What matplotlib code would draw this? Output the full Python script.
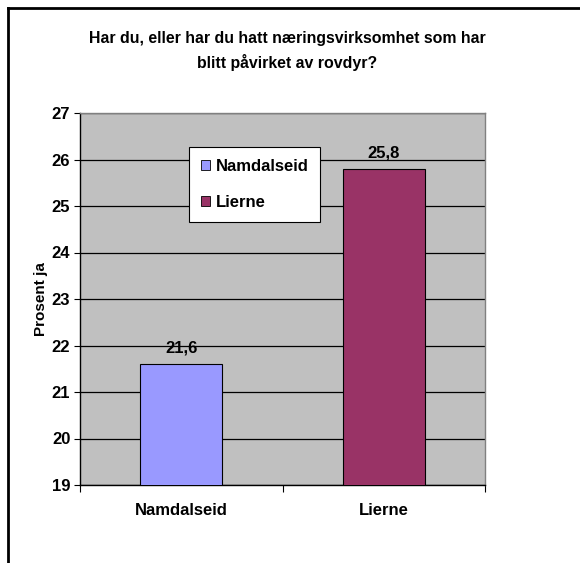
import matplotlib
matplotlib.use("Agg")
import matplotlib.pyplot as plt
from matplotlib.patches import Patch
from matplotlib.lines import Line2D

categories = ["Namdalseid", "Lierne"]
values = [21.6, 25.8]
value_labels = ["21,6", "25,8"]
colors = ["#9999FF", "#993366"]
yticks = [19, 20, 21, 22, 23, 24, 25, 26, 27]
title = "Har du, eller har du hatt næringsvirksomhet som har\nblitt påvirket av rovdyr?"
ylabel = "Prosent ja"

plt.rcParams['font.family'] = ['Liberation Sans', 'DejaVu Sans']
plt.rcParams['font.weight'] = 'bold'

W, H = 580, 563
fig = plt.figure(figsize=(W / 100, H / 100), dpi=100)
fig.patch.set_facecolor('white')

# outer frame (top and left visible)
fig.add_artist(Line2D([8 / W, 1], [1 - 8 / H, 1 - 8 / H], transform=fig.transFigure, color='black', lw=2))
fig.add_artist(Line2D([8 / W, 8 / W], [0, 1 - 8 / H], transform=fig.transFigure, color='black', lw=2))

L, R, T, B = 80, 485, 113, 485
ax = fig.add_axes([L / W, 1 - B / H, (R - L) / W, (B - T) / H])
ax.set_facecolor('#C0C0C0')

x = list(range(len(categories)))
ax.bar(x, values, width=0.405, bottom=0, color=colors, edgecolor='black', linewidth=0.8, zorder=3)
ax.set_xlim(-0.5, len(categories) - 0.5)
ax.set_ylim(19, 27)
ax.set_yticks(yticks)
ax.set_yticklabels([str(t) for t in yticks], fontsize=12, fontweight='bold')
ax.yaxis.grid(True, color='black', linewidth=0.9, zorder=1)
ax.set_axisbelow(True)

ax.set_xticks(x)
ax.set_xticklabels(categories, fontsize=12, fontweight='bold')
ax.tick_params(axis='x', length=0, pad=13)
ax.set_xticks([-0.5, 0.5, 1.5], minor=True)
ax.tick_params(axis='x', which='minor', length=5, width=0.8, color='black')
ax.tick_params(axis='y', length=4, width=0.8, color='black', pad=3)

for s in ['top', 'right']:
    ax.spines[s].set_color('#808080')
    ax.spines[s].set_linewidth(1)
for s in ['left', 'bottom']:
    ax.spines[s].set_color('black')
    ax.spines[s].set_linewidth(1)

for xi, v, lab in zip(x, values, value_labels):
    ax.annotate(lab, (xi, v), xytext=(0, 6), textcoords='offset points',
                ha='center', va='bottom', fontsize=12, fontweight='bold')

ax.set_ylabel(ylabel, fontsize=11, fontweight='bold', labelpad=3)

fig.text(287 / W, 1 - 51 / H, title, ha='center', va='center', fontsize=11.4,
         fontweight='bold', linespacing=1.6)

handles = [Patch(facecolor=c, edgecolor='black', linewidth=0.6) for c in colors]
leg = ax.legend(handles, categories, loc='upper left',
                bbox_to_anchor=(189 / W, 1 - 147 / H), bbox_transform=fig.transFigure,
                fancybox=False, framealpha=1, edgecolor='black', fontsize=12,
                handlelength=0.55, handleheight=0.55, handletextpad=0.35,
                labelspacing=1.3, borderpad=0.7, borderaxespad=0)
leg.get_frame().set_linewidth(0.8)
for t in leg.get_texts():
    t.set_fontweight('bold')

fig.savefig('out.png', dpi=100)
